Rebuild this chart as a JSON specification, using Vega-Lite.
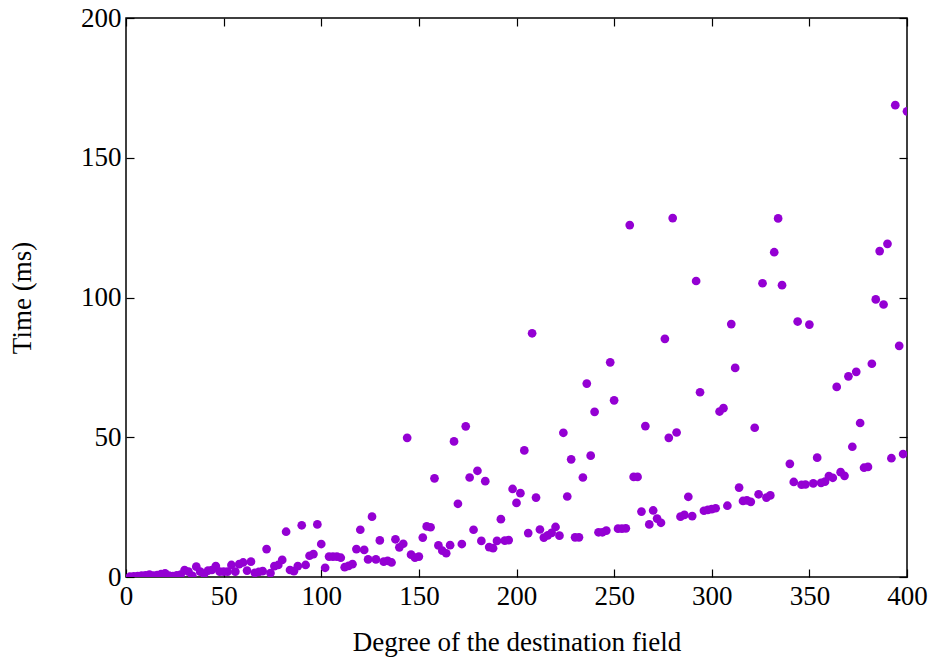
{
  "$schema": "https://vega.github.io/schema/vega-lite/v6.json",
  "width": 781,
  "height": 559,
  "autosize": "none",
  "padding": {"left": 126, "top": 18, "right": 29, "bottom": 86},
  "background": "white",
  "config": {
    "view": {"stroke": "black", "strokeWidth": 1.5},
    "axis": {
      "labelFont": "Liberation Serif",
      "labelFontSize": 27,
      "labelColor": "black",
      "titleFont": "Liberation Serif",
      "titleFontSize": 27,
      "titleFontWeight": "normal",
      "titleColor": "black",
      "domain": false,
      "grid": false,
      "tickColor": "black",
      "tickWidth": 1.2,
      "tickSize": -8
    }
  },
  "data": {
    "values": [
      {"degree": 2, "time": 0.1}, {"degree": 4, "time": 0.2}, {"degree": 6, "time": 0.3}, {"degree": 8, "time": 0.5},
      {"degree": 10, "time": 0.6}, {"degree": 12, "time": 0.9}, {"degree": 14, "time": 0.5}, {"degree": 16, "time": 0.7},
      {"degree": 18, "time": 1.0}, {"degree": 20, "time": 1.3}, {"degree": 22, "time": 0.5}, {"degree": 24, "time": 0.3},
      {"degree": 26, "time": 0.6}, {"degree": 28, "time": 0.9}, {"degree": 30, "time": 2.5}, {"degree": 32, "time": 1.9},
      {"degree": 34, "time": 0.4}, {"degree": 36, "time": 3.7}, {"degree": 38, "time": 1.9}, {"degree": 40, "time": 1.1},
      {"degree": 42, "time": 2.3}, {"degree": 44, "time": 2.5}, {"degree": 46, "time": 3.9}, {"degree": 48, "time": 1.9},
      {"degree": 50, "time": 1.9}, {"degree": 52, "time": 1.9}, {"degree": 54, "time": 4.3}, {"degree": 56, "time": 1.9},
      {"degree": 58, "time": 4.6}, {"degree": 60, "time": 5.2}, {"degree": 62, "time": 2.3}, {"degree": 64, "time": 5.5},
      {"degree": 66, "time": 1.5}, {"degree": 68, "time": 1.8}, {"degree": 70, "time": 2.1}, {"degree": 72, "time": 10.0},
      {"degree": 74, "time": 1.4}, {"degree": 76, "time": 3.9}, {"degree": 78, "time": 4.3}, {"degree": 80, "time": 6.1},
      {"degree": 82, "time": 16.2}, {"degree": 84, "time": 2.5}, {"degree": 86, "time": 2.1}, {"degree": 88, "time": 3.9},
      {"degree": 90, "time": 18.5}, {"degree": 92, "time": 4.3}, {"degree": 94, "time": 7.6}, {"degree": 96, "time": 8.2},
      {"degree": 98, "time": 18.8}, {"degree": 100, "time": 11.8}, {"degree": 102, "time": 3.3}, {"degree": 104, "time": 7.3},
      {"degree": 106, "time": 7.3}, {"degree": 108, "time": 7.3}, {"degree": 110, "time": 6.9}, {"degree": 112, "time": 3.5},
      {"degree": 114, "time": 4.0}, {"degree": 116, "time": 4.6}, {"degree": 118, "time": 10.0}, {"degree": 120, "time": 16.9},
      {"degree": 122, "time": 9.7}, {"degree": 124, "time": 6.3}, {"degree": 126, "time": 21.6}, {"degree": 128, "time": 6.3},
      {"degree": 130, "time": 13.1}, {"degree": 132, "time": 5.5}, {"degree": 134, "time": 5.8}, {"degree": 136, "time": 5.2},
      {"degree": 138, "time": 13.5}, {"degree": 140, "time": 10.6}, {"degree": 142, "time": 11.9}, {"degree": 144, "time": 49.8},
      {"degree": 146, "time": 8.0}, {"degree": 148, "time": 6.9}, {"degree": 150, "time": 7.3}, {"degree": 152, "time": 14.1},
      {"degree": 154, "time": 18.1}, {"degree": 156, "time": 17.8}, {"degree": 158, "time": 35.3}, {"degree": 160, "time": 11.3},
      {"degree": 162, "time": 9.4}, {"degree": 164, "time": 8.5}, {"degree": 166, "time": 11.4}, {"degree": 168, "time": 48.5},
      {"degree": 170, "time": 26.2}, {"degree": 172, "time": 11.8}, {"degree": 174, "time": 53.9}, {"degree": 176, "time": 35.6},
      {"degree": 178, "time": 16.9}, {"degree": 180, "time": 38.0}, {"degree": 182, "time": 12.9}, {"degree": 184, "time": 34.3},
      {"degree": 186, "time": 10.7}, {"degree": 188, "time": 10.3}, {"degree": 190, "time": 12.9}, {"degree": 192, "time": 20.7},
      {"degree": 194, "time": 13.0}, {"degree": 196, "time": 13.2}, {"degree": 198, "time": 31.5}, {"degree": 200, "time": 26.5},
      {"degree": 202, "time": 30.0}, {"degree": 204, "time": 45.3}, {"degree": 206, "time": 15.7}, {"degree": 208, "time": 87.2},
      {"degree": 210, "time": 28.4}, {"degree": 212, "time": 17.0}, {"degree": 214, "time": 14.1}, {"degree": 216, "time": 14.9},
      {"degree": 218, "time": 15.8}, {"degree": 220, "time": 17.9}, {"degree": 222, "time": 14.8}, {"degree": 224, "time": 51.6},
      {"degree": 226, "time": 28.8}, {"degree": 228, "time": 42.1}, {"degree": 230, "time": 14.2}, {"degree": 232, "time": 14.2},
      {"degree": 234, "time": 35.6}, {"degree": 236, "time": 69.2}, {"degree": 238, "time": 43.4}, {"degree": 240, "time": 59.1},
      {"degree": 242, "time": 16.0}, {"degree": 244, "time": 16.0}, {"degree": 246, "time": 16.6}, {"degree": 248, "time": 76.8},
      {"degree": 250, "time": 63.2}, {"degree": 252, "time": 17.3}, {"degree": 254, "time": 17.3}, {"degree": 256, "time": 17.4},
      {"degree": 258, "time": 125.9}, {"degree": 260, "time": 35.8}, {"degree": 262, "time": 35.8}, {"degree": 264, "time": 23.4},
      {"degree": 266, "time": 54.0}, {"degree": 268, "time": 18.8}, {"degree": 270, "time": 23.8}, {"degree": 272, "time": 20.9},
      {"degree": 274, "time": 19.4}, {"degree": 276, "time": 85.2}, {"degree": 278, "time": 49.8}, {"degree": 280, "time": 128.4},
      {"degree": 282, "time": 51.7}, {"degree": 284, "time": 21.6}, {"degree": 286, "time": 22.2}, {"degree": 288, "time": 28.7},
      {"degree": 290, "time": 21.8}, {"degree": 292, "time": 105.9}, {"degree": 294, "time": 66.1}, {"degree": 296, "time": 23.7},
      {"degree": 298, "time": 24.0}, {"degree": 300, "time": 24.3}, {"degree": 302, "time": 24.6}, {"degree": 304, "time": 59.2},
      {"degree": 306, "time": 60.4}, {"degree": 308, "time": 25.5}, {"degree": 310, "time": 90.5}, {"degree": 312, "time": 74.8},
      {"degree": 314, "time": 32.0}, {"degree": 316, "time": 27.2}, {"degree": 318, "time": 27.4}, {"degree": 320, "time": 26.9},
      {"degree": 322, "time": 53.4}, {"degree": 324, "time": 29.6}, {"degree": 326, "time": 105.1}, {"degree": 328, "time": 28.4},
      {"degree": 330, "time": 29.2}, {"degree": 332, "time": 116.2}, {"degree": 334, "time": 128.3}, {"degree": 336, "time": 104.4},
      {"degree": 340, "time": 40.5}, {"degree": 342, "time": 34.0}, {"degree": 344, "time": 91.4}, {"degree": 346, "time": 33.0},
      {"degree": 348, "time": 33.1}, {"degree": 350, "time": 90.3}, {"degree": 352, "time": 33.5}, {"degree": 354, "time": 42.7},
      {"degree": 356, "time": 33.7}, {"degree": 358, "time": 34.1}, {"degree": 360, "time": 36.1}, {"degree": 362, "time": 35.5},
      {"degree": 364, "time": 68.0}, {"degree": 366, "time": 37.5}, {"degree": 368, "time": 36.2}, {"degree": 370, "time": 71.8},
      {"degree": 372, "time": 46.6}, {"degree": 374, "time": 73.4}, {"degree": 376, "time": 55.1}, {"degree": 378, "time": 39.1},
      {"degree": 380, "time": 39.4}, {"degree": 382, "time": 76.3}, {"degree": 384, "time": 99.3}, {"degree": 386, "time": 116.6},
      {"degree": 388, "time": 97.5}, {"degree": 390, "time": 119.2}, {"degree": 392, "time": 42.5}, {"degree": 394, "time": 168.8},
      {"degree": 396, "time": 82.7}, {"degree": 398, "time": 44.0}, {"degree": 400, "time": 166.6}
    ]
  },
  "layer": [
    {
      "mark": {"type": "point", "filled": true, "shape": "circle", "size": 76, "color": "#9400D3", "opacity": 1, "clip": true},
      "encoding": {
        "x": {
          "field": "degree", "type": "quantitative",
          "scale": {"domain": [0, 400], "nice": false, "zero": false},
          "axis": {"orient": "bottom", "title": "Degree of the destination field", "values": [0, 50, 100, 150, 200, 250, 300, 350, 400], "labelPadding": 14, "titlePadding": 20, "labelFlush": false}
        },
        "y": {
          "field": "time", "type": "quantitative",
          "scale": {"domain": [0, 200], "nice": false, "zero": false},
          "axis": {"orient": "left", "title": "Time (ms)", "values": [0, 50, 100, 150, 200], "labelPadding": 13, "titlePadding": 44, "labelFlush": false}
        }
      }
    },
    {
      "mark": {"type": "point", "opacity": 0},
      "encoding": {
        "x": {
          "field": "degree", "type": "quantitative",
          "scale": {"domain": [0, 400], "nice": false, "zero": false},
          "axis": {"orient": "top", "title": null, "labels": false, "values": [0, 50, 100, 150, 200, 250, 300, 350, 400]}
        },
        "y": {
          "field": "time", "type": "quantitative",
          "scale": {"domain": [0, 200], "nice": false, "zero": false},
          "axis": {"orient": "right", "title": null, "labels": false, "values": [0, 50, 100, 150, 200]}
        }
      }
    }
  ],
  "resolve": {"axis": {"x": "independent", "y": "independent"}}
}
